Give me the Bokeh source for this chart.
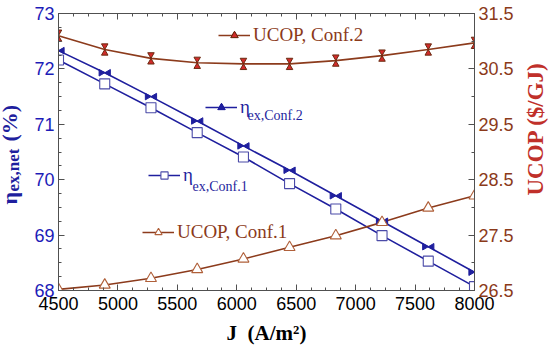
import math
from bokeh.plotting import figure
from bokeh.layouts import row
from bokeh.models import (Range1d, LinearAxis, SingleIntervalTicker, FixedTicker,
                          Legend, LegendItem, Label, ColumnDataSource, CustomJSTickFormatter)
from bokeh.transform import dodge
from bokeh.core.properties import value
from bokeh.embed import file_html
from bokeh.resources import INLINE

# ---- data ----
J = [4500, 4889, 5278, 5667, 6056, 6444, 6833, 7222, 7611, 8000]
eta_conf2 = [72.33, 71.93, 71.50, 71.06, 70.61, 70.17, 69.71, 69.25, 68.79, 68.33]
eta_conf1 = [72.16, 71.73, 71.30, 70.85, 70.41, 69.93, 69.47, 68.99, 68.53, 68.07]
ucop_conf2 = [31.10, 30.85, 30.69, 30.61, 30.59, 30.59, 30.65, 30.74, 30.85, 30.97]
ucop_conf1 = [26.52, 26.60, 26.72, 26.88, 27.07, 27.28, 27.49, 27.73, 27.99, 28.21]
right_ticks = [26.5, 27.5, 28.5, 29.5, 30.5, 31.5]
right_minor = [26.5, 27.0, 27.5, 28.0, 28.5, 29.0, 29.5, 30.0, 30.5, 31.0, 31.5]

left_title_parts = ["η", "ex,net", "(%)"]
right_title = "UCOP ($/GJ)"
x_title = "J\u2002(A/m²)"

BLUE = "#1f1f9e"
BLUE_TXT = "#1c1cb8"
SQ_BLUE = "#4b4ba8"
BROWN = "#8c3b1c"
BROWN_TXT = "#8b3a1a"
RED = "#d22a2a"
RED_TITLE = "#c0302a"
FRAME = "#505050"

TOP, BOTTOM, H = 13, 60, 350

src = ColumnDataSource(dict(J=J, e2=eta_conf2, e1=eta_conf1, u2=ucop_conf2, u1=ucop_conf1))

p = figure(width=502, height=H, x_range=Range1d(4500, 8000), y_range=Range1d(68, 73),
           output_backend="svg", toolbar_location=None,
           min_border_left=34, min_border_right=52, min_border_top=TOP, min_border_bottom=BOTTOM)
p.extra_y_ranges = {"ucop": Range1d(26.5, 31.5)}
p.grid.visible = False
p.outline_line_color = FRAME
p.border_fill_color = "white"

def style_ticks(ax):
    ax.major_tick_in = 6
    ax.major_tick_out = 0
    ax.minor_tick_in = 3
    ax.minor_tick_out = 0
    ax.axis_line_color = FRAME
    ax.major_tick_line_color = FRAME
    ax.minor_tick_line_color = FRAME

# bottom axis
xa = p.xaxis[0]
xa.ticker = SingleIntervalTicker(interval=500, num_minor_ticks=4)
style_ticks(xa)
xa.major_label_text_font = "Liberation Sans"
xa.major_label_text_font_size = "18px"
xa.major_label_text_color = "black"
xa.major_label_standoff = 6
xa.axis_label = x_title
xa.axis_label_text_font = "Liberation Serif"
xa.axis_label_text_font_style = "bold"
xa.axis_label_text_font_size = "21px"
xa.axis_label_text_color = "black"
xa.axis_label_standoff = 8

# left axis
ya = p.yaxis[0]
ya.ticker = SingleIntervalTicker(interval=1, num_minor_ticks=4)
style_ticks(ya)
ya.major_label_text_font = "Liberation Sans"
ya.major_label_text_font_size = "18px"
ya.major_label_text_color = BLUE_TXT
ya.major_label_standoff = 4

# right axis
ra = LinearAxis(y_range_name="ucop", ticker=FixedTicker(ticks=right_ticks, minor_ticks=right_minor))
style_ticks(ra)
ra.major_label_text_font = "Liberation Sans"
ra.major_label_text_font_size = "18px"
ra.major_label_text_color = BROWN_TXT
ra.major_label_standoff = 4
p.add_layout(ra, "right")

# top axis (ticks only)
ta = LinearAxis(ticker=SingleIntervalTicker(interval=500, num_minor_ticks=4),
                formatter=CustomJSTickFormatter(code="return ''"))
style_ticks(ta)
ta.major_label_standoff = 0
p.add_layout(ta, "above")

# ---- series ----
dj = 31.5      # half-offset of bowtie triangles (x data units)
du = 0.068     # half-offset of hourglass triangles (right-axis units)
msz = 6.5

le2 = p.line("J", "e2", source=src, line_color=BLUE, line_width=1.6)
le1 = p.line("J", "e1", source=src, line_color=BLUE, line_width=1.6)
lu2 = p.line("J", "u2", source=src, line_color=BROWN, line_width=1.6, y_range_name="ucop")
lu1 = p.line("J", "u1", source=src, line_color=BROWN, line_width=1.6, y_range_name="ucop")

se2a = p.scatter(x=dodge("J", -dj), y="e2", source=src, marker="triangle", angle=-math.pi / 2,
                 size=msz, fill_color=BLUE, line_color=BLUE, line_width=1)
se2b = p.scatter(x=dodge("J", dj), y="e2", source=src, marker="triangle", angle=math.pi / 2,
                 size=msz, fill_color=BLUE, line_color=BLUE, line_width=1)
se1 = p.scatter("J", "e1", source=src, marker="square", size=10,
                fill_color="white", line_color=SQ_BLUE, line_width=1.1)
su2a = p.scatter(x="J", y=dodge("u2", du), source=src, marker="triangle", angle=math.pi,
                 size=msz, fill_color=RED, line_color="#6a2a10", line_width=1, y_range_name="ucop")
su2b = p.scatter(x="J", y=dodge("u2", -du), source=src, marker="triangle", angle=0,
                 size=msz, fill_color=RED, line_color="#6a2a10", line_width=1, y_range_name="ucop")
su1 = p.scatter("J", "u1", source=src, marker="triangle", size=11,
                fill_color="white", line_color="#b0603a", line_width=1.1, y_range_name="ucop")

# ---- in-plot legend labels ----
def make_legend(label, renderers, loc, color):
    lg = Legend(items=[LegendItem(label=label, renderers=renderers)], location=loc,
                padding=0, margin=0, spacing=0, glyph_width=32, glyph_height=18,
                label_height=18, label_standoff=3,
                background_fill_alpha=0, border_line_alpha=0,
                label_text_font="Liberation Serif", label_text_font_size="19px",
                label_text_color=color)
    p.add_layout(lg)

make_legend("UCOP, Conf.2", [lu2, su2a, su2b], (160, 244), BROWN_TXT)
make_legend("η", [le2, se2a, se2b], (147, 172), BLUE)
make_legend("η", [le1, se1], (90, 104), BLUE)
make_legend("UCOP, Conf.1", [lu1, su1], (84, 47), BROWN_TXT)

def lab(text, x, y, size, color):
    p.add_layout(Label(x=x, y=y, x_units="screen", y_units="screen", text=text,
                       text_font="Liberation Serif", text_font_size=size,
                       text_color=color, text_baseline="alphabetic", text_align="left"))

lab("ex,Conf.2", 189, 175, "14px", BLUE)
lab("ex,Conf.1", 134, 104, "14px", BLUE)

# ---- side strips carrying the rotated axis titles ----
# strip coordinates: x = pixels from strip's left edge, y = pixels from page bottom
def strip(width):
    f = figure(width=width, height=H, x_range=Range1d(0, width), y_range=Range1d(BOTTOM, H - TOP),
               output_backend="svg", toolbar_location=None,
               min_border_left=0, min_border_right=0, min_border_top=TOP, min_border_bottom=BOTTOM,
               x_axis_location=None, y_axis_location=None)
    f.grid.visible = False
    f.outline_line_color = None
    f.border_fill_color = "white"
    return f

lf = strip(24)
lf.text(x=[9, 13, 9], y=[146, 159, 209], text=left_title_parts, angle=math.pi / 2,
        text_font=value("Liberation Serif"), text_font_style="bold",
        text_font_size=["22px", "17px", "22px"], text_color=BLUE,
        text_baseline="alphabetic", text_align="left")

rf = strip(24)
rf.text(x=[9], y=[155], text=[right_title], angle=math.pi / 2,
        text_font=value("Liberation Serif"), text_font_style="bold",
        text_font_size="23px", text_color=RED_TITLE,
        text_baseline="alphabetic", text_align="left")

layout = row(lf, p, rf, spacing=0)
open("out.html", "w").write(file_html(layout, INLINE))
